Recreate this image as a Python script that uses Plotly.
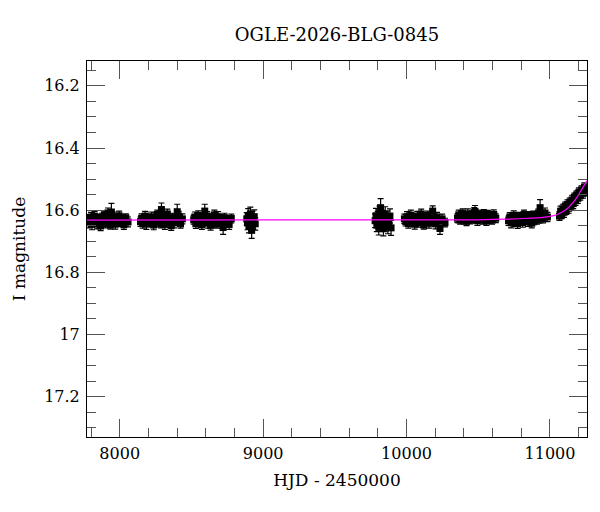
import plotly.graph_objects as go

# OGLE light curve: HJD - 2450000, I magnitude, error per season

# Season 1
s1_hjd = [7776, 7783, 7791, 7800, 7807, 7816, 7824, 7833, 7841, 7850,
          7858, 7867, 7876, 7884, 7893, 7901, 7910, 7918, 7927, 7935,
          7942, 7952, 7961, 7969, 7978, 7987, 7996, 8006, 8017, 8029,
          8043, 8058]
s1_mag = [16.628, 16.641, 16.635, 16.622, 16.646, 16.631, 16.619, 16.638, 16.644, 16.627,
          16.633, 16.651, 16.624, 16.636, 16.615, 16.642, 16.630, 16.609, 16.637, 16.648,
          16.606, 16.634, 16.621, 16.645, 16.632, 16.640, 16.618, 16.636, 16.629, 16.647,
          16.625, 16.638]
s1_err = [0.014, 0.016, 0.013, 0.015, 0.017, 0.014, 0.015, 0.013, 0.016, 0.014,
          0.018, 0.015, 0.014, 0.016, 0.013, 0.015, 0.014, 0.016, 0.015, 0.013,
          0.028, 0.014, 0.015, 0.016, 0.014, 0.013, 0.015, 0.016, 0.014, 0.015,
          0.013, 0.016]

# Season 2
s2_hjd = [8145, 8153, 8160, 8169, 8177, 8186, 8194, 8203, 8211, 8220,
          8228, 8237, 8245, 8254, 8262, 8271, 8280, 8288, 8291, 8297,
          8306, 8315, 8323, 8332, 8341, 8350, 8359, 8368, 8378, 8389,
          8401, 8411, 8424, 8437]
s2_mag = [16.637, 16.626, 16.642, 16.631, 16.619, 16.645, 16.634, 16.628, 16.640, 16.622,
          16.636, 16.648, 16.625, 16.633, 16.614, 16.639, 16.627, 16.643, 16.598, 16.630,
          16.621, 16.646, 16.635, 16.612, 16.638, 16.629, 16.650, 16.624, 16.641, 16.632,
          16.605, 16.619, 16.644, 16.628]
s2_err = [0.015, 0.014, 0.016, 0.013, 0.015, 0.017, 0.014, 0.015, 0.013, 0.016,
          0.014, 0.015, 0.016, 0.013, 0.014, 0.015, 0.016, 0.014, 0.021, 0.015,
          0.013, 0.016, 0.014, 0.015, 0.013, 0.016, 0.015, 0.014, 0.016, 0.013,
          0.024, 0.015, 0.014, 0.016]

# Season 3
s3_hjd = [8516, 8524, 8531, 8539, 8548, 8556, 8565, 8573, 8582, 8593,
          8600, 8609, 8617, 8626, 8634, 8643, 8651, 8660, 8669, 8677,
          8686, 8694, 8703, 8712, 8721, 8730, 8740, 8751, 8763, 8778]
s3_mag = [16.631, 16.622, 16.644, 16.636, 16.617, 16.640, 16.628, 16.647, 16.625, 16.603,
          16.634, 16.619, 16.642, 16.630, 16.649, 16.626, 16.638, 16.615, 16.633, 16.645,
          16.621, 16.637, 16.629, 16.643, 16.656, 16.624, 16.639, 16.632, 16.646, 16.627]
s3_err = [0.014, 0.016, 0.015, 0.013, 0.015, 0.014, 0.016, 0.015, 0.013, 0.022,
          0.015, 0.014, 0.016, 0.013, 0.015, 0.014, 0.016, 0.015, 0.014, 0.013,
          0.016, 0.015, 0.014, 0.016, 0.022, 0.014, 0.015, 0.013, 0.016, 0.014]

# Season 4 (short)
s4_hjd = [8886, 8891, 8896, 8901, 8906, 8911, 8916, 8920, 8925, 8931, 8938, 8945]
s4_mag = [16.628, 16.641, 16.619, 16.652, 16.634, 16.612, 16.646, 16.665, 16.625, 16.638, 16.621, 16.644]
s4_err = [0.020, 0.022, 0.024, 0.021, 0.023, 0.022, 0.020, 0.026, 0.021, 0.023, 0.022, 0.020]

# Season 5 (short)
s5_hjd = [9781, 9787, 9793, 9799, 9806, 9812, 9819, 9825, 9831, 9838,
          9844, 9851, 9857, 9864, 9870, 9877, 9884, 9892]
s5_mag = [16.634, 16.618, 16.648, 16.627, 16.655, 16.609, 16.592, 16.641, 16.622, 16.660,
          16.631, 16.614, 16.646, 16.625, 16.652, 16.636, 16.619, 16.657]
s5_err = [0.022, 0.024, 0.021, 0.023, 0.025, 0.022, 0.029, 0.024, 0.021, 0.023,
          0.022, 0.025, 0.021, 0.023, 0.024, 0.022, 0.023, 0.024]

# Season 6
s6_hjd = [9985, 9994, 10003, 10012, 10021, 10030, 10039, 10048, 10057, 10066,
          10075, 10084, 10093, 10102, 10111, 10120, 10129, 10138, 10147, 10156,
          10165, 10174, 10182, 10192, 10202, 10212, 10222, 10233, 10248, 10268]
s6_mag = [16.628, 16.637, 16.621, 16.643, 16.631, 16.616, 16.639, 16.626, 16.645, 16.633,
          16.619, 16.641, 16.629, 16.612, 16.636, 16.648, 16.624, 16.634, 16.617, 16.642,
          16.627, 16.638, 16.603, 16.630, 16.644, 16.622, 16.635, 16.659, 16.628, 16.640]
s6_err = [0.015, 0.014, 0.016, 0.015, 0.013, 0.016, 0.014, 0.015, 0.016, 0.013,
          0.015, 0.014, 0.016, 0.015, 0.014, 0.013, 0.016, 0.015, 0.014, 0.016,
          0.015, 0.013, 0.017, 0.014, 0.016, 0.015, 0.014, 0.019, 0.015, 0.014]

# Season 7
s7_hjd = [10355, 10364, 10373, 10382, 10391, 10400, 10409, 10418, 10427, 10436,
          10445, 10454, 10463, 10472, 10477, 10485, 10494, 10503, 10512, 10521,
          10530, 10539, 10548, 10557, 10566, 10575, 10585, 10596, 10608, 10622]
s7_mag = [16.626, 16.615, 16.632, 16.620, 16.610, 16.629, 16.618, 16.636, 16.612, 16.624,
          16.631, 16.617, 16.627, 16.608, 16.604, 16.621, 16.634, 16.613, 16.625, 16.619,
          16.630, 16.611, 16.623, 16.635, 16.616, 16.628, 16.620, 16.632, 16.614, 16.626]
s7_err = [0.014, 0.015, 0.013, 0.016, 0.014, 0.015, 0.013, 0.014, 0.016, 0.015,
          0.013, 0.015, 0.014, 0.016, 0.019, 0.014, 0.015, 0.013, 0.016, 0.014,
          0.015, 0.013, 0.016, 0.014, 0.015, 0.014, 0.016, 0.013, 0.015, 0.014]

# Season 8
s8_hjd = [10711, 10720, 10729, 10738, 10747, 10756, 10765, 10774, 10783, 10792,
          10801, 10810, 10819, 10828, 10837, 10846, 10855, 10864, 10873, 10882,
          10891, 10900, 10909, 10918, 10926, 10931, 10940, 10952, 10965, 10982]
s8_mag = [16.634, 16.622, 16.641, 16.629, 16.617, 16.638, 16.626, 16.644, 16.620, 16.632,
          16.625, 16.640, 16.614, 16.631, 16.623, 16.637, 16.619, 16.628, 16.642, 16.616,
          16.633, 16.621, 16.630, 16.611, 16.626, 16.592, 16.618, 16.627, 16.609, 16.622]
s8_err = [0.015, 0.014, 0.016, 0.013, 0.015, 0.014, 0.016, 0.015, 0.013, 0.014,
          0.016, 0.015, 0.014, 0.013, 0.016, 0.015, 0.014, 0.016, 0.015, 0.013,
          0.014, 0.016, 0.015, 0.014, 0.016, 0.026, 0.015, 0.014, 0.016, 0.015]

# Season 9 (event rising)
s9_hjd = [11066, 11074, 11082, 11090, 11098, 11106, 11114, 11122, 11130, 11138,
          11146, 11154, 11162, 11170, 11178, 11186, 11194, 11202, 11211, 11220,
          11230, 11240, 11250]
s9_mag = [16.619, 16.603, 16.614, 16.596, 16.607, 16.588, 16.601, 16.582, 16.594, 16.575,
          16.587, 16.567, 16.579, 16.559, 16.570, 16.551, 16.562, 16.542, 16.553, 16.535,
          16.546, 16.526, 16.537]
s9_err = [0.014, 0.016, 0.013, 0.015, 0.016, 0.014, 0.013, 0.015, 0.016, 0.014,
          0.013, 0.015, 0.016, 0.014, 0.015, 0.013, 0.016, 0.014, 0.015, 0.013,
          0.015, 0.014, 0.016]

# Model curve (magenta)
model_hjd = [7772, 10500, 10700, 10850, 10950, 11000, 11050, 11100, 11130, 11160, 11190, 11220, 11258]
model_mag = [16.632, 16.631, 16.629, 16.626, 16.623, 16.620, 16.614, 16.602, 16.591, 16.576, 16.557, 16.534, 16.505]

hjd = s1_hjd + s2_hjd + s3_hjd + s4_hjd + s5_hjd + s6_hjd + s7_hjd + s8_hjd + s9_hjd
mag = s1_mag + s2_mag + s3_mag + s4_mag + s5_mag + s6_mag + s7_mag + s8_mag + s9_mag
err = s1_err + s2_err + s3_err + s4_err + s5_err + s6_err + s7_err + s8_err + s9_err

FONT = "DejaVu Serif, Liberation Serif, serif"

fig = go.Figure()

# data points with error bars (big markers so the seasons look like solid blobs)
fig.add_trace(go.Scatter(
    x=hjd, y=mag,
    mode="markers",
    marker=dict(size=7, color="black", symbol="square"),
    error_y=dict(type="data", array=err, color="black", thickness=1.2, width=3),
    showlegend=False,
))

# model on top
fig.add_trace(go.Scatter(
    x=model_hjd, y=model_mag,
    mode="lines",
    line=dict(color="#ff00ff", width=1.2, shape="spline"),
    showlegend=False,
))

axis_common = dict(
    showline=True, linecolor="black", linewidth=1,
    mirror="allticks", ticks="inside",
    tickcolor="#555", tickwidth=1, ticklen=18,
    showgrid=False, zeroline=False, automargin=False,
    tickfont=dict(family=FONT, size=16, color="black"),
)

fig.update_xaxes(
    range=[7772, 11258],
    tick0=8000, dtick=1000, tickformat="d", ticklabelstandoff=2,
    minor=dict(dtick=200, ticklen=9, ticks="inside", tickcolor="#555", showgrid=False),
    title=dict(text="HJD - 2450000", font=dict(family=FONT, size=17, color="black"), standoff=11),
    **axis_common,
)
fig.update_yaxes(
    range=[17.33, 16.12],
    tick0=16.2, dtick=0.2, ticklabelstandoff=3,
    minor=dict(dtick=0.05, ticklen=9, ticks="inside", tickcolor="#555", showgrid=False),
    title=dict(text="I magnitude", font=dict(family=FONT, size=17, color="black"), standoff=14),
    **axis_common,
)

# page body has an 8px margin, so the figure is 8px smaller and offsets are shifted
fig.update_layout(
    width=592, height=504,
    margin=dict(l=79, r=13, t=53, b=75),
    plot_bgcolor="white", paper_bgcolor="white",
    title=dict(text="OGLE-2026-BLG-0845", x=0.5, xref="paper", xanchor="center",
               y=1 - 27 / 504, yref="container", yanchor="middle",
               font=dict(family=FONT, size=18, color="black")),
)

fig.write_html("out.html")
